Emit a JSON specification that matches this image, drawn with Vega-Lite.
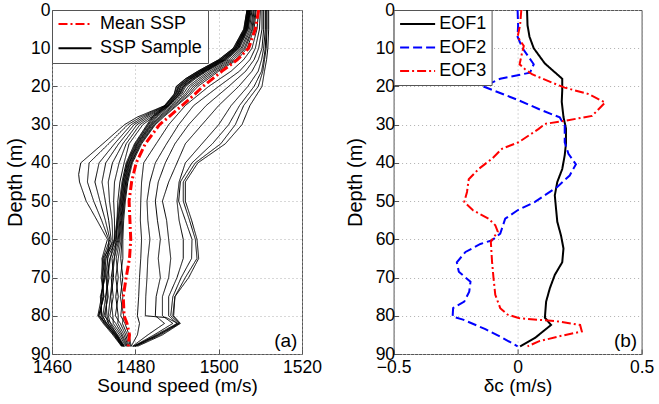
{
  "$schema": "https://vega.github.io/schema/vega-lite/v6.json",
  "background": "white",
  "padding": {"left": 5, "top": 0, "right": 0, "bottom": 0},
  "bounds": "flush",
  "spacing": 91.6,
  "resolve": {"scale": {"color": "independent", "strokeDash": "independent"}, "legend": {"color": "independent", "strokeDash": "independent"}},
  "config": {
    "font": "Liberation Sans",
    "view": {"stroke": "#555555", "strokeWidth": 1},
    "axis": {
      "domain": false, "grid": true, "gridColor": "#b0b0b0", "gridDash": [1, 3], "gridWidth": 1,
      "ticks": true, "tickSize": -5, "tickColor": "#555555",
      "labelFlush": false, "labelOverlap": false,
      "labelFont": "Liberation Sans", "labelFontSize": 17.5, "labelColor": "black",
      "titleFont": "Liberation Sans", "titleFontSize": 19, "titleFontWeight": "normal", "titleColor": "black"
    },
    "axisX": {"labelPadding": 9, "titlePadding": 1},
    "axisY": {"labelPadding": 7, "titlePadding": 5, "titleFontSize": 20}
  },
  "datasets": {
    "ssp": [
{"s":"b0","g":"S","d":0,"c":1506.8},{"s":"b0","g":"S","d":5,"c":1506.0},{"s":"b0","g":"S","d":10,"c":1503.5},{"s":"b0","g":"S","d":13,"c":1500.0},{"s":"b0","g":"S","d":16,"c":1495.0},{"s":"b0","g":"S","d":18,"c":1492.0},{"s":"b0","g":"S","d":20,"c":1489.8},{"s":"b0","g":"S","d":22,"c":1489.3},{"s":"b0","g":"S","d":25,"c":1487.0},{"s":"b0","g":"S","d":28,"c":1484.0},{"s":"b0","g":"S","d":30,"c":1482.8},{"s":"b0","g":"S","d":35,"c":1479.8},{"s":"b0","g":"S","d":40,"c":1477.8},{"s":"b0","g":"S","d":45,"c":1476.8},{"s":"b0","g":"S","d":50,"c":1476.2},{"s":"b0","g":"S","d":55,"c":1475.6},{"s":"b0","g":"S","d":60,"c":1475.0},{"s":"b0","g":"S","d":65,"c":1472.3},{"s":"b0","g":"S","d":70,"c":1472.6},{"s":"b0","g":"S","d":75,"c":1471.8},{"s":"b0","g":"S","d":80,"c":1471.9},{"s":"b0","g":"S","d":82,"c":1472.5},{"s":"b0","g":"S","d":85,"c":1475.0},{"s":"b0","g":"S","d":88,"c":1477.0},
{"s":"b1","g":"S","d":0,"c":1507.0},{"s":"b1","g":"S","d":5,"c":1506.3},{"s":"b1","g":"S","d":10,"c":1503.9},{"s":"b1","g":"S","d":13,"c":1500.5},{"s":"b1","g":"S","d":16,"c":1495.6},{"s":"b1","g":"S","d":18,"c":1492.6},{"s":"b1","g":"S","d":20,"c":1490.4},{"s":"b1","g":"S","d":22,"c":1489.7},{"s":"b1","g":"S","d":25,"c":1487.3},{"s":"b1","g":"S","d":28,"c":1484.3},{"s":"b1","g":"S","d":30,"c":1483.0},{"s":"b1","g":"S","d":35,"c":1480.0},{"s":"b1","g":"S","d":40,"c":1478.0},{"s":"b1","g":"S","d":45,"c":1477.0},{"s":"b1","g":"S","d":50,"c":1476.4},{"s":"b1","g":"S","d":55,"c":1475.8},{"s":"b1","g":"S","d":60,"c":1475.2},{"s":"b1","g":"S","d":65,"c":1472.8},{"s":"b1","g":"S","d":70,"c":1472.0},{"s":"b1","g":"S","d":75,"c":1472.4},{"s":"b1","g":"S","d":80,"c":1471.2},{"s":"b1","g":"S","d":82,"c":1473.1},{"s":"b1","g":"S","d":85,"c":1475.4},{"s":"b1","g":"S","d":88,"c":1477.2},
{"s":"b2","g":"S","d":0,"c":1507.3},{"s":"b2","g":"S","d":5,"c":1506.6},{"s":"b2","g":"S","d":10,"c":1504.2},{"s":"b2","g":"S","d":13,"c":1501.0},{"s":"b2","g":"S","d":16,"c":1496.1},{"s":"b2","g":"S","d":18,"c":1493.2},{"s":"b2","g":"S","d":20,"c":1490.9},{"s":"b2","g":"S","d":22,"c":1490.2},{"s":"b2","g":"S","d":25,"c":1487.7},{"s":"b2","g":"S","d":28,"c":1484.6},{"s":"b2","g":"S","d":30,"c":1483.2},{"s":"b2","g":"S","d":35,"c":1480.2},{"s":"b2","g":"S","d":40,"c":1478.1},{"s":"b2","g":"S","d":45,"c":1477.1},{"s":"b2","g":"S","d":50,"c":1476.5},{"s":"b2","g":"S","d":55,"c":1475.9},{"s":"b2","g":"S","d":60,"c":1475.4},{"s":"b2","g":"S","d":65,"c":1473.3},{"s":"b2","g":"S","d":70,"c":1473.7},{"s":"b2","g":"S","d":75,"c":1472.9},{"s":"b2","g":"S","d":80,"c":1473.2},{"s":"b2","g":"S","d":82,"c":1473.6},{"s":"b2","g":"S","d":85,"c":1475.8},{"s":"b2","g":"S","d":88,"c":1477.4},
{"s":"b3","g":"S","d":0,"c":1507.5},{"s":"b3","g":"S","d":5,"c":1506.8},{"s":"b3","g":"S","d":10,"c":1504.6},{"s":"b3","g":"S","d":13,"c":1501.5},{"s":"b3","g":"S","d":16,"c":1496.7},{"s":"b3","g":"S","d":18,"c":1493.8},{"s":"b3","g":"S","d":20,"c":1491.5},{"s":"b3","g":"S","d":22,"c":1490.6},{"s":"b3","g":"S","d":25,"c":1488.0},{"s":"b3","g":"S","d":28,"c":1484.9},{"s":"b3","g":"S","d":30,"c":1483.5},{"s":"b3","g":"S","d":35,"c":1480.4},{"s":"b3","g":"S","d":40,"c":1478.3},{"s":"b3","g":"S","d":45,"c":1477.3},{"s":"b3","g":"S","d":50,"c":1476.7},{"s":"b3","g":"S","d":55,"c":1476.1},{"s":"b3","g":"S","d":60,"c":1475.7},{"s":"b3","g":"S","d":65,"c":1473.9},{"s":"b3","g":"S","d":70,"c":1473.1},{"s":"b3","g":"S","d":75,"c":1473.5},{"s":"b3","g":"S","d":80,"c":1472.5},{"s":"b3","g":"S","d":82,"c":1474.2},{"s":"b3","g":"S","d":85,"c":1476.2},{"s":"b3","g":"S","d":88,"c":1477.7},
{"s":"b4","g":"S","d":0,"c":1507.8},{"s":"b4","g":"S","d":5,"c":1507.1},{"s":"b4","g":"S","d":10,"c":1505.0},{"s":"b4","g":"S","d":13,"c":1502.0},{"s":"b4","g":"S","d":16,"c":1497.2},{"s":"b4","g":"S","d":18,"c":1494.4},{"s":"b4","g":"S","d":20,"c":1492.1},{"s":"b4","g":"S","d":22,"c":1491.1},{"s":"b4","g":"S","d":25,"c":1488.3},{"s":"b4","g":"S","d":28,"c":1485.2},{"s":"b4","g":"S","d":30,"c":1483.7},{"s":"b4","g":"S","d":35,"c":1480.5},{"s":"b4","g":"S","d":40,"c":1478.5},{"s":"b4","g":"S","d":45,"c":1477.4},{"s":"b4","g":"S","d":50,"c":1476.8},{"s":"b4","g":"S","d":55,"c":1476.3},{"s":"b4","g":"S","d":60,"c":1475.9},{"s":"b4","g":"S","d":65,"c":1474.4},{"s":"b4","g":"S","d":70,"c":1474.8},{"s":"b4","g":"S","d":75,"c":1474.1},{"s":"b4","g":"S","d":80,"c":1474.6},{"s":"b4","g":"S","d":82,"c":1474.7},{"s":"b4","g":"S","d":85,"c":1476.6},{"s":"b4","g":"S","d":88,"c":1477.9},
{"s":"b5","g":"S","d":0,"c":1508.0},{"s":"b5","g":"S","d":5,"c":1507.4},{"s":"b5","g":"S","d":10,"c":1505.4},{"s":"b5","g":"S","d":13,"c":1502.5},{"s":"b5","g":"S","d":16,"c":1497.8},{"s":"b5","g":"S","d":18,"c":1495.1},{"s":"b5","g":"S","d":20,"c":1492.7},{"s":"b5","g":"S","d":22,"c":1491.5},{"s":"b5","g":"S","d":25,"c":1488.7},{"s":"b5","g":"S","d":28,"c":1485.6},{"s":"b5","g":"S","d":30,"c":1483.9},{"s":"b5","g":"S","d":35,"c":1480.7},{"s":"b5","g":"S","d":40,"c":1478.6},{"s":"b5","g":"S","d":45,"c":1477.6},{"s":"b5","g":"S","d":50,"c":1477.0},{"s":"b5","g":"S","d":55,"c":1476.5},{"s":"b5","g":"S","d":60,"c":1476.1},{"s":"b5","g":"S","d":65,"c":1474.9},{"s":"b5","g":"S","d":70,"c":1474.2},{"s":"b5","g":"S","d":75,"c":1474.7},{"s":"b5","g":"S","d":80,"c":1473.9},{"s":"b5","g":"S","d":82,"c":1475.3},{"s":"b5","g":"S","d":85,"c":1476.9},{"s":"b5","g":"S","d":88,"c":1478.1},
{"s":"b6","g":"S","d":0,"c":1508.3},{"s":"b6","g":"S","d":5,"c":1507.7},{"s":"b6","g":"S","d":10,"c":1505.7},{"s":"b6","g":"S","d":13,"c":1503.0},{"s":"b6","g":"S","d":16,"c":1498.4},{"s":"b6","g":"S","d":18,"c":1495.7},{"s":"b6","g":"S","d":20,"c":1493.3},{"s":"b6","g":"S","d":22,"c":1492.0},{"s":"b6","g":"S","d":25,"c":1489.0},{"s":"b6","g":"S","d":28,"c":1485.9},{"s":"b6","g":"S","d":30,"c":1484.1},{"s":"b6","g":"S","d":35,"c":1480.9},{"s":"b6","g":"S","d":40,"c":1478.8},{"s":"b6","g":"S","d":45,"c":1477.7},{"s":"b6","g":"S","d":50,"c":1477.1},{"s":"b6","g":"S","d":55,"c":1476.7},{"s":"b6","g":"S","d":60,"c":1476.3},{"s":"b6","g":"S","d":65,"c":1475.4},{"s":"b6","g":"S","d":70,"c":1475.9},{"s":"b6","g":"S","d":75,"c":1475.3},{"s":"b6","g":"S","d":80,"c":1475.9},{"s":"b6","g":"S","d":82,"c":1475.8},{"s":"b6","g":"S","d":85,"c":1477.3},{"s":"b6","g":"S","d":88,"c":1478.3},
{"s":"b7","g":"S","d":0,"c":1508.5},{"s":"b7","g":"S","d":5,"c":1508.0},{"s":"b7","g":"S","d":10,"c":1506.1},{"s":"b7","g":"S","d":13,"c":1503.5},{"s":"b7","g":"S","d":16,"c":1498.9},{"s":"b7","g":"S","d":18,"c":1496.3},{"s":"b7","g":"S","d":20,"c":1493.9},{"s":"b7","g":"S","d":22,"c":1492.4},{"s":"b7","g":"S","d":25,"c":1489.3},{"s":"b7","g":"S","d":28,"c":1486.2},{"s":"b7","g":"S","d":30,"c":1484.4},{"s":"b7","g":"S","d":35,"c":1481.1},{"s":"b7","g":"S","d":40,"c":1479.0},{"s":"b7","g":"S","d":45,"c":1477.9},{"s":"b7","g":"S","d":50,"c":1477.3},{"s":"b7","g":"S","d":55,"c":1476.8},{"s":"b7","g":"S","d":60,"c":1476.6},{"s":"b7","g":"S","d":65,"c":1475.9},{"s":"b7","g":"S","d":70,"c":1475.3},{"s":"b7","g":"S","d":75,"c":1475.9},{"s":"b7","g":"S","d":80,"c":1475.2},{"s":"b7","g":"S","d":82,"c":1476.4},{"s":"b7","g":"S","d":85,"c":1477.7},{"s":"b7","g":"S","d":88,"c":1478.5},
{"s":"b8","g":"S","d":0,"c":1508.8},{"s":"b8","g":"S","d":5,"c":1508.2},{"s":"b8","g":"S","d":10,"c":1506.4},{"s":"b8","g":"S","d":13,"c":1504.0},{"s":"b8","g":"S","d":16,"c":1499.5},{"s":"b8","g":"S","d":18,"c":1496.9},{"s":"b8","g":"S","d":20,"c":1494.4},{"s":"b8","g":"S","d":22,"c":1492.9},{"s":"b8","g":"S","d":25,"c":1489.7},{"s":"b8","g":"S","d":28,"c":1486.5},{"s":"b8","g":"S","d":30,"c":1484.6},{"s":"b8","g":"S","d":35,"c":1481.3},{"s":"b8","g":"S","d":40,"c":1479.1},{"s":"b8","g":"S","d":45,"c":1478.0},{"s":"b8","g":"S","d":50,"c":1477.4},{"s":"b8","g":"S","d":55,"c":1477.0},{"s":"b8","g":"S","d":60,"c":1476.8},{"s":"b8","g":"S","d":65,"c":1476.5},{"s":"b8","g":"S","d":70,"c":1477.0},{"s":"b8","g":"S","d":75,"c":1476.4},{"s":"b8","g":"S","d":80,"c":1477.2},{"s":"b8","g":"S","d":82,"c":1476.9},{"s":"b8","g":"S","d":85,"c":1478.1},{"s":"b8","g":"S","d":88,"c":1478.8},
{"s":"b9","g":"S","d":0,"c":1509.0},{"s":"b9","g":"S","d":5,"c":1508.5},{"s":"b9","g":"S","d":10,"c":1506.8},{"s":"b9","g":"S","d":13,"c":1504.5},{"s":"b9","g":"S","d":16,"c":1500.0},{"s":"b9","g":"S","d":18,"c":1497.5},{"s":"b9","g":"S","d":20,"c":1495.0},{"s":"b9","g":"S","d":22,"c":1493.3},{"s":"b9","g":"S","d":25,"c":1490.0},{"s":"b9","g":"S","d":28,"c":1486.8},{"s":"b9","g":"S","d":30,"c":1484.8},{"s":"b9","g":"S","d":35,"c":1481.5},{"s":"b9","g":"S","d":40,"c":1479.3},{"s":"b9","g":"S","d":45,"c":1478.2},{"s":"b9","g":"S","d":50,"c":1477.6},{"s":"b9","g":"S","d":55,"c":1477.2},{"s":"b9","g":"S","d":60,"c":1477.0},{"s":"b9","g":"S","d":65,"c":1477.0},{"s":"b9","g":"S","d":70,"c":1476.4},{"s":"b9","g":"S","d":75,"c":1477.0},{"s":"b9","g":"S","d":80,"c":1476.5},{"s":"b9","g":"S","d":82,"c":1477.5},{"s":"b9","g":"S","d":85,"c":1478.5},{"s":"b9","g":"S","d":88,"c":1479.0},
{"s":"l1","g":"S","d":0,"c":1507.6},{"s":"l1","g":"S","d":5,"c":1507.0},{"s":"l1","g":"S","d":10,"c":1504.8},{"s":"l1","g":"S","d":13,"c":1501.7},{"s":"l1","g":"S","d":16,"c":1496.9},{"s":"l1","g":"S","d":18,"c":1494.1},{"s":"l1","g":"S","d":20,"c":1491.8},{"s":"l1","g":"S","d":22,"c":1490.8},{"s":"l1","g":"S","d":25,"c":1488.1},{"s":"l1","g":"S","d":28,"c":1484.3},{"s":"l1","g":"S","d":30,"c":1481.8},{"s":"l1","g":"S","d":35,"c":1478.5},{"s":"l1","g":"S","d":40,"c":1477.3},{"s":"l1","g":"S","d":45,"c":1476.3},{"s":"l1","g":"S","d":50,"c":1475.8},{"s":"l1","g":"S","d":55,"c":1475.6},{"s":"l1","g":"S","d":60,"c":1475.4},{"s":"l1","g":"S","d":65,"c":1475.0},{"s":"l1","g":"S","d":70,"c":1474.5},{"s":"l1","g":"S","d":75,"c":1474.0},{"s":"l1","g":"S","d":80,"c":1473.5},{"s":"l1","g":"S","d":82,"c":1474.0},{"s":"l1","g":"S","d":85,"c":1475.6},{"s":"l1","g":"S","d":88,"c":1477.2},
{"s":"l2","g":"S","d":0,"c":1507.5},{"s":"l2","g":"S","d":5,"c":1506.8},{"s":"l2","g":"S","d":10,"c":1504.6},{"s":"l2","g":"S","d":13,"c":1501.4},{"s":"l2","g":"S","d":16,"c":1496.6},{"s":"l2","g":"S","d":18,"c":1493.8},{"s":"l2","g":"S","d":20,"c":1491.5},{"s":"l2","g":"S","d":22,"c":1490.6},{"s":"l2","g":"S","d":25,"c":1488.0},{"s":"l2","g":"S","d":28,"c":1483.8},{"s":"l2","g":"S","d":30,"c":1481.1},{"s":"l2","g":"S","d":35,"c":1477.8},{"s":"l2","g":"S","d":40,"c":1476.1},{"s":"l2","g":"S","d":45,"c":1475.0},{"s":"l2","g":"S","d":50,"c":1474.8},{"s":"l2","g":"S","d":55,"c":1475.0},{"s":"l2","g":"S","d":60,"c":1475.0},{"s":"l2","g":"S","d":65,"c":1474.0},{"s":"l2","g":"S","d":70,"c":1473.4},{"s":"l2","g":"S","d":75,"c":1472.9},{"s":"l2","g":"S","d":80,"c":1472.2},{"s":"l2","g":"S","d":82,"c":1473.0},{"s":"l2","g":"S","d":85,"c":1475.3},{"s":"l2","g":"S","d":88,"c":1477.0},
{"s":"l3","g":"S","d":0,"c":1507.4},{"s":"l3","g":"S","d":5,"c":1506.7},{"s":"l3","g":"S","d":10,"c":1504.4},{"s":"l3","g":"S","d":13,"c":1501.2},{"s":"l3","g":"S","d":16,"c":1496.3},{"s":"l3","g":"S","d":18,"c":1493.4},{"s":"l3","g":"S","d":20,"c":1491.2},{"s":"l3","g":"S","d":22,"c":1490.3},{"s":"l3","g":"S","d":25,"c":1487.8},{"s":"l3","g":"S","d":28,"c":1483.2},{"s":"l3","g":"S","d":30,"c":1480.4},{"s":"l3","g":"S","d":35,"c":1477.0},{"s":"l3","g":"S","d":40,"c":1474.5},{"s":"l3","g":"S","d":45,"c":1473.5},{"s":"l3","g":"S","d":50,"c":1473.8},{"s":"l3","g":"S","d":55,"c":1474.4},{"s":"l3","g":"S","d":60,"c":1474.6},{"s":"l3","g":"S","d":65,"c":1473.0},{"s":"l3","g":"S","d":70,"c":1472.4},{"s":"l3","g":"S","d":75,"c":1472.2},{"s":"l3","g":"S","d":80,"c":1471.5},{"s":"l3","g":"S","d":82,"c":1472.8},{"s":"l3","g":"S","d":85,"c":1475.0},{"s":"l3","g":"S","d":88,"c":1476.8},
{"s":"l4","g":"S","d":0,"c":1507.2},{"s":"l4","g":"S","d":5,"c":1506.5},{"s":"l4","g":"S","d":10,"c":1504.2},{"s":"l4","g":"S","d":13,"c":1500.9},{"s":"l4","g":"S","d":16,"c":1496.0},{"s":"l4","g":"S","d":18,"c":1493.1},{"s":"l4","g":"S","d":20,"c":1490.8},{"s":"l4","g":"S","d":22,"c":1490.1},{"s":"l4","g":"S","d":25,"c":1487.6},{"s":"l4","g":"S","d":28,"c":1482.6},{"s":"l4","g":"S","d":30,"c":1479.7},{"s":"l4","g":"S","d":35,"c":1476.0},{"s":"l4","g":"S","d":40,"c":1472.9},{"s":"l4","g":"S","d":45,"c":1472.0},{"s":"l4","g":"S","d":50,"c":1472.8},{"s":"l4","g":"S","d":55,"c":1473.6},{"s":"l4","g":"S","d":60,"c":1474.2},{"s":"l4","g":"S","d":65,"c":1472.6},{"s":"l4","g":"S","d":70,"c":1473.0},{"s":"l4","g":"S","d":75,"c":1473.3},{"s":"l4","g":"S","d":80,"c":1472.8},{"s":"l4","g":"S","d":82,"c":1473.5},{"s":"l4","g":"S","d":85,"c":1475.5},{"s":"l4","g":"S","d":88,"c":1477.3},
{"s":"l5","g":"S","d":0,"c":1507.1},{"s":"l5","g":"S","d":5,"c":1506.4},{"s":"l5","g":"S","d":10,"c":1504.0},{"s":"l5","g":"S","d":13,"c":1500.6},{"s":"l5","g":"S","d":16,"c":1495.7},{"s":"l5","g":"S","d":18,"c":1492.8},{"s":"l5","g":"S","d":20,"c":1490.5},{"s":"l5","g":"S","d":22,"c":1489.9},{"s":"l5","g":"S","d":25,"c":1487.4},{"s":"l5","g":"S","d":28,"c":1482.0},{"s":"l5","g":"S","d":30,"c":1479.0},{"s":"l5","g":"S","d":35,"c":1475.0},{"s":"l5","g":"S","d":40,"c":1471.3},{"s":"l5","g":"S","d":45,"c":1470.3},{"s":"l5","g":"S","d":50,"c":1471.5},{"s":"l5","g":"S","d":55,"c":1472.8},{"s":"l5","g":"S","d":60,"c":1473.9},{"s":"l5","g":"S","d":65,"c":1472.2},{"s":"l5","g":"S","d":70,"c":1471.8},{"s":"l5","g":"S","d":75,"c":1472.5},{"s":"l5","g":"S","d":80,"c":1471.2},{"s":"l5","g":"S","d":82,"c":1472.6},{"s":"l5","g":"S","d":85,"c":1474.8},{"s":"l5","g":"S","d":88,"c":1476.8},
{"s":"l6","g":"S","d":0,"c":1507.0},{"s":"l6","g":"S","d":5,"c":1506.2},{"s":"l6","g":"S","d":10,"c":1503.8},{"s":"l6","g":"S","d":13,"c":1500.4},{"s":"l6","g":"S","d":16,"c":1495.4},{"s":"l6","g":"S","d":18,"c":1492.4},{"s":"l6","g":"S","d":20,"c":1490.2},{"s":"l6","g":"S","d":22,"c":1489.6},{"s":"l6","g":"S","d":25,"c":1487.2},{"s":"l6","g":"S","d":28,"c":1481.3},{"s":"l6","g":"S","d":30,"c":1478.2},{"s":"l6","g":"S","d":35,"c":1473.6},{"s":"l6","g":"S","d":40,"c":1468.9},{"s":"l6","g":"S","d":45,"c":1468.5},{"s":"l6","g":"S","d":50,"c":1470.0},{"s":"l6","g":"S","d":55,"c":1471.9},{"s":"l6","g":"S","d":60,"c":1473.6},{"s":"l6","g":"S","d":65,"c":1473.4},{"s":"l6","g":"S","d":70,"c":1472.8},{"s":"l6","g":"S","d":75,"c":1471.6},{"s":"l6","g":"S","d":80,"c":1472.0},{"s":"l6","g":"S","d":82,"c":1473.2},{"s":"l6","g":"S","d":85,"c":1475.2},{"s":"l6","g":"S","d":88,"c":1477.1},
{"s":"l7","g":"S","d":0,"c":1506.8},{"s":"l7","g":"S","d":5,"c":1506.1},{"s":"l7","g":"S","d":10,"c":1503.6},{"s":"l7","g":"S","d":13,"c":1500.1},{"s":"l7","g":"S","d":16,"c":1495.1},{"s":"l7","g":"S","d":18,"c":1492.1},{"s":"l7","g":"S","d":20,"c":1489.9},{"s":"l7","g":"S","d":22,"c":1489.4},{"s":"l7","g":"S","d":25,"c":1487.1},{"s":"l7","g":"S","d":28,"c":1480.5},{"s":"l7","g":"S","d":30,"c":1477.4},{"s":"l7","g":"S","d":35,"c":1472.2},{"s":"l7","g":"S","d":40,"c":1466.9},{"s":"l7","g":"S","d":43,"c":1466.4},{"s":"l7","g":"S","d":45,"c":1466.6},{"s":"l7","g":"S","d":50,"c":1468.2},{"s":"l7","g":"S","d":55,"c":1470.8},{"s":"l7","g":"S","d":60,"c":1473.3},{"s":"l7","g":"S","d":65,"c":1472.0},{"s":"l7","g":"S","d":70,"c":1472.2},{"s":"l7","g":"S","d":75,"c":1471.9},{"s":"l7","g":"S","d":80,"c":1471.0},{"s":"l7","g":"S","d":82,"c":1472.3},{"s":"l7","g":"S","d":85,"c":1474.6},{"s":"l7","g":"S","d":88,"c":1476.7},
{"s":"r1","g":"S","d":0,"c":1509.6},{"s":"r1","g":"S","d":5,"c":1509.2},{"s":"r1","g":"S","d":10,"c":1508.0},{"s":"r1","g":"S","d":13,"c":1506.0},{"s":"r1","g":"S","d":16,"c":1503.0},{"s":"r1","g":"S","d":20,"c":1497.6},{"s":"r1","g":"S","d":25,"c":1492.0},{"s":"r1","g":"S","d":30,"c":1488.0},{"s":"r1","g":"S","d":35,"c":1485.0},{"s":"r1","g":"S","d":40,"c":1482.0},{"s":"r1","g":"S","d":45,"c":1481.5},{"s":"r1","g":"S","d":50,"c":1481.3},{"s":"r1","g":"S","d":55,"c":1481.2},{"s":"r1","g":"S","d":60,"c":1481.5},{"s":"r1","g":"S","d":65,"c":1481.3},{"s":"r1","g":"S","d":70,"c":1481.0},{"s":"r1","g":"S","d":75,"c":1480.8},{"s":"r1","g":"S","d":80,"c":1480.5},{"s":"r1","g":"S","d":82,"c":1481.0},{"s":"r1","g":"S","d":85,"c":1480.5},{"s":"r1","g":"S","d":88,"c":1479.0},
{"s":"r2","g":"S","d":0,"c":1510.0},{"s":"r2","g":"S","d":5,"c":1509.8},{"s":"r2","g":"S","d":10,"c":1508.8},{"s":"r2","g":"S","d":13,"c":1507.5},{"s":"r2","g":"S","d":16,"c":1505.0},{"s":"r2","g":"S","d":20,"c":1500.0},{"s":"r2","g":"S","d":25,"c":1494.0},{"s":"r2","g":"S","d":30,"c":1490.4},{"s":"r2","g":"S","d":35,"c":1487.5},{"s":"r2","g":"S","d":40,"c":1484.8},{"s":"r2","g":"S","d":45,"c":1483.5},{"s":"r2","g":"S","d":50,"c":1482.8},{"s":"r2","g":"S","d":55,"c":1483.0},{"s":"r2","g":"S","d":60,"c":1483.5},{"s":"r2","g":"S","d":65,"c":1483.0},{"s":"r2","g":"S","d":70,"c":1482.8},{"s":"r2","g":"S","d":75,"c":1482.5},{"s":"r2","g":"S","d":80,"c":1482.4},{"s":"r2","g":"S","d":80.5,"c":1487.5},{"s":"r2","g":"S","d":82,"c":1490.2},{"s":"r2","g":"S","d":85,"c":1485.5},{"s":"r2","g":"S","d":88,"c":1479.5},
{"s":"r3","g":"S","d":0,"c":1510.4},{"s":"r3","g":"S","d":5,"c":1510.4},{"s":"r3","g":"S","d":10,"c":1509.6},{"s":"r3","g":"S","d":13,"c":1508.5},{"s":"r3","g":"S","d":16,"c":1506.5},{"s":"r3","g":"S","d":20,"c":1502.4},{"s":"r3","g":"S","d":25,"c":1497.0},{"s":"r3","g":"S","d":30,"c":1492.8},{"s":"r3","g":"S","d":35,"c":1489.5},{"s":"r3","g":"S","d":40,"c":1487.2},{"s":"r3","g":"S","d":45,"c":1485.5},{"s":"r3","g":"S","d":50,"c":1484.8},{"s":"r3","g":"S","d":55,"c":1485.3},{"s":"r3","g":"S","d":60,"c":1486.0},{"s":"r3","g":"S","d":65,"c":1485.5},{"s":"r3","g":"S","d":70,"c":1486.0},{"s":"r3","g":"S","d":75,"c":1485.0},{"s":"r3","g":"S","d":80,"c":1484.8},{"s":"r3","g":"S","d":82,"c":1487.0},{"s":"r3","g":"S","d":85,"c":1483.0},{"s":"r3","g":"S","d":88,"c":1479.3},
{"s":"r4","g":"S","d":0,"c":1510.8},{"s":"r4","g":"S","d":5,"c":1510.8},{"s":"r4","g":"S","d":10,"c":1510.4},{"s":"r4","g":"S","d":13,"c":1509.5},{"s":"r4","g":"S","d":16,"c":1508.0},{"s":"r4","g":"S","d":20,"c":1504.8},{"s":"r4","g":"S","d":25,"c":1500.0},{"s":"r4","g":"S","d":30,"c":1496.0},{"s":"r4","g":"S","d":35,"c":1492.0},{"s":"r4","g":"S","d":40,"c":1490.0},{"s":"r4","g":"S","d":45,"c":1488.0},{"s":"r4","g":"S","d":50,"c":1486.5},{"s":"r4","g":"S","d":55,"c":1487.5},{"s":"r4","g":"S","d":60,"c":1488.0},{"s":"r4","g":"S","d":65,"c":1488.5},{"s":"r4","g":"S","d":70,"c":1488.0},{"s":"r4","g":"S","d":75,"c":1486.5},{"s":"r4","g":"S","d":80,"c":1486.5},{"s":"r4","g":"S","d":82,"c":1489.0},{"s":"r4","g":"S","d":85,"c":1484.5},{"s":"r4","g":"S","d":88,"c":1479.5},
{"s":"r5","g":"S","d":0,"c":1511.2},{"s":"r5","g":"S","d":5,"c":1511.2},{"s":"r5","g":"S","d":10,"c":1510.8},{"s":"r5","g":"S","d":13,"c":1510.3},{"s":"r5","g":"S","d":16,"c":1509.5},{"s":"r5","g":"S","d":20,"c":1507.0},{"s":"r5","g":"S","d":25,"c":1503.0},{"s":"r5","g":"S","d":30,"c":1500.0},{"s":"r5","g":"S","d":35,"c":1496.0},{"s":"r5","g":"S","d":40,"c":1492.0},{"s":"r5","g":"S","d":45,"c":1490.5},{"s":"r5","g":"S","d":50,"c":1490.0},{"s":"r5","g":"S","d":55,"c":1490.5},{"s":"r5","g":"S","d":60,"c":1491.5},{"s":"r5","g":"S","d":65,"c":1491.5},{"s":"r5","g":"S","d":70,"c":1490.0},{"s":"r5","g":"S","d":75,"c":1488.0},{"s":"r5","g":"S","d":80,"c":1488.0},{"s":"r5","g":"S","d":82,"c":1490.0},{"s":"r5","g":"S","d":85,"c":1485.0},{"s":"r5","g":"S","d":88,"c":1479.8},
{"s":"r6","g":"S","d":0,"c":1511.4},{"s":"r6","g":"S","d":5,"c":1511.4},{"s":"r6","g":"S","d":10,"c":1511.2},{"s":"r6","g":"S","d":13,"c":1510.8},{"s":"r6","g":"S","d":16,"c":1510.3},{"s":"r6","g":"S","d":20,"c":1508.5},{"s":"r6","g":"S","d":25,"c":1505.0},{"s":"r6","g":"S","d":30,"c":1502.4},{"s":"r6","g":"S","d":35,"c":1498.5},{"s":"r6","g":"S","d":40,"c":1493.6},{"s":"r6","g":"S","d":45,"c":1490.8},{"s":"r6","g":"S","d":50,"c":1490.4},{"s":"r6","g":"S","d":55,"c":1492.0},{"s":"r6","g":"S","d":60,"c":1493.6},{"s":"r6","g":"S","d":65,"c":1493.5},{"s":"r6","g":"S","d":70,"c":1491.0},{"s":"r6","g":"S","d":75,"c":1489.0},{"s":"r6","g":"S","d":80,"c":1488.5},{"s":"r6","g":"S","d":82,"c":1490.5},{"s":"r6","g":"S","d":85,"c":1485.5},{"s":"r6","g":"S","d":88,"c":1480.0},
{"s":"r7","g":"S","d":0,"c":1511.6},{"s":"r7","g":"S","d":5,"c":1511.6},{"s":"r7","g":"S","d":10,"c":1511.4},{"s":"r7","g":"S","d":13,"c":1511.0},{"s":"r7","g":"S","d":16,"c":1510.6},{"s":"r7","g":"S","d":20,"c":1509.5},{"s":"r7","g":"S","d":25,"c":1506.0},{"s":"r7","g":"S","d":30,"c":1504.0},{"s":"r7","g":"S","d":35,"c":1500.5},{"s":"r7","g":"S","d":40,"c":1494.4},{"s":"r7","g":"S","d":45,"c":1491.5},{"s":"r7","g":"S","d":50,"c":1491.5},{"s":"r7","g":"S","d":55,"c":1493.0},{"s":"r7","g":"S","d":60,"c":1494.4},{"s":"r7","g":"S","d":65,"c":1494.8},{"s":"r7","g":"S","d":70,"c":1492.0},{"s":"r7","g":"S","d":75,"c":1489.5},{"s":"r7","g":"S","d":80,"c":1489.0},{"s":"r7","g":"S","d":82,"c":1490.6},{"s":"r7","g":"S","d":85,"c":1486.0},{"s":"r7","g":"S","d":88,"c":1480.0},
{"s":"r8","g":"S","d":0,"c":1512.0},{"s":"r8","g":"S","d":5,"c":1512.0},{"s":"r8","g":"S","d":10,"c":1511.8},{"s":"r8","g":"S","d":13,"c":1511.5},{"s":"r8","g":"S","d":16,"c":1511.0},{"s":"r8","g":"S","d":20,"c":1510.4},{"s":"r8","g":"S","d":25,"c":1507.5},{"s":"r8","g":"S","d":30,"c":1505.6},{"s":"r8","g":"S","d":35,"c":1501.6},{"s":"r8","g":"S","d":40,"c":1495.0},{"s":"r8","g":"S","d":45,"c":1492.0},{"s":"r8","g":"S","d":50,"c":1492.0},{"s":"r8","g":"S","d":55,"c":1493.5},{"s":"r8","g":"S","d":60,"c":1494.8},{"s":"r8","g":"S","d":65,"c":1495.2},{"s":"r8","g":"S","d":70,"c":1492.8},{"s":"r8","g":"S","d":75,"c":1489.5},{"s":"r8","g":"S","d":80,"c":1489.2},{"s":"r8","g":"S","d":82,"c":1490.8},{"s":"r8","g":"S","d":85,"c":1486.5},{"s":"r8","g":"S","d":88,"c":1480.5},
{"s":"m","g":"M","d":0,"c":1509.6},{"s":"m","g":"M","d":5,"c":1508.8},{"s":"m","g":"M","d":10,"c":1507.2},{"s":"m","g":"M","d":13,"c":1504.5},{"s":"m","g":"M","d":16,"c":1500.8},{"s":"m","g":"M","d":18,"c":1498.5},{"s":"m","g":"M","d":20,"c":1496.2},{"s":"m","g":"M","d":22,"c":1494.3},{"s":"m","g":"M","d":25,"c":1491.2},{"s":"m","g":"M","d":28,"c":1488.0},{"s":"m","g":"M","d":30,"c":1485.8},{"s":"m","g":"M","d":35,"c":1482.4},{"s":"m","g":"M","d":40,"c":1480.2},{"s":"m","g":"M","d":45,"c":1479.1},{"s":"m","g":"M","d":50,"c":1478.5},{"s":"m","g":"M","d":55,"c":1478.7},{"s":"m","g":"M","d":60,"c":1478.9},{"s":"m","g":"M","d":65,"c":1478.6},{"s":"m","g":"M","d":70,"c":1477.8},{"s":"m","g":"M","d":75,"c":1477.1},{"s":"m","g":"M","d":80,"c":1477.3},{"s":"m","g":"M","d":82,"c":1478.0},{"s":"m","g":"M","d":85,"c":1478.6},{"s":"m","g":"M","d":88,"c":1478.3}
    ],
    "eof": [
{"g":"EOF1","d":0,"v":0.038},{"g":"EOF1","d":4,"v":0.04},{"g":"EOF1","d":7,"v":0.048},{"g":"EOF1","d":10,"v":0.065},{"g":"EOF1","d":14,"v":0.11},{"g":"EOF1","d":18,"v":0.18},{"g":"EOF1","d":21,"v":0.18},{"g":"EOF1","d":24,"v":0.178},{"g":"EOF1","d":28,"v":0.185},{"g":"EOF1","d":31,"v":0.195},{"g":"EOF1","d":35,"v":0.195},{"g":"EOF1","d":38,"v":0.19},{"g":"EOF1","d":41.6,"v":0.18},{"g":"EOF1","d":45,"v":0.16},{"g":"EOF1","d":48.5,"v":0.15},{"g":"EOF1","d":52,"v":0.155},{"g":"EOF1","d":55.4,"v":0.16},{"g":"EOF1","d":59,"v":0.175},{"g":"EOF1","d":62.4,"v":0.185},{"g":"EOF1","d":66,"v":0.18},{"g":"EOF1","d":69.3,"v":0.15},{"g":"EOF1","d":72.8,"v":0.13},{"g":"EOF1","d":76.3,"v":0.115},{"g":"EOF1","d":80.5,"v":0.11},{"g":"EOF1","d":82.4,"v":0.135},{"g":"EOF1","d":85.8,"v":0.07},{"g":"EOF1","d":88,"v":0.01},
{"g":"EOF2","d":0,"v":0.0},{"g":"EOF2","d":4,"v":0.002},{"g":"EOF2","d":7,"v":0.0},{"g":"EOF2","d":10,"v":0.02},{"g":"EOF2","d":14.2,"v":0.065},{"g":"EOF2","d":16.4,"v":0.05},{"g":"EOF2","d":18,"v":-0.07},{"g":"EOF2","d":20,"v":-0.138},{"g":"EOF2","d":23.5,"v":0.0},{"g":"EOF2","d":25.9,"v":0.085},{"g":"EOF2","d":28.1,"v":0.17},{"g":"EOF2","d":30.3,"v":0.19},{"g":"EOF2","d":34.6,"v":0.19},{"g":"EOF2","d":37.6,"v":0.205},{"g":"EOF2","d":40.4,"v":0.235},{"g":"EOF2","d":43.3,"v":0.21},{"g":"EOF2","d":46.3,"v":0.16},{"g":"EOF2","d":50.2,"v":0.07},{"g":"EOF2","d":52.4,"v":0.0},{"g":"EOF2","d":54.6,"v":-0.05},{"g":"EOF2","d":58.5,"v":-0.07},{"g":"EOF2","d":60.3,"v":-0.105},{"g":"EOF2","d":61.2,"v":-0.15},{"g":"EOF2","d":63.3,"v":-0.21},{"g":"EOF2","d":66,"v":-0.245},{"g":"EOF2","d":68.5,"v":-0.237},{"g":"EOF2","d":71.1,"v":-0.19},{"g":"EOF2","d":73.7,"v":-0.195},{"g":"EOF2","d":76.3,"v":-0.215},{"g":"EOF2","d":78,"v":-0.26},{"g":"EOF2","d":80.2,"v":-0.262},{"g":"EOF2","d":81,"v":-0.22},{"g":"EOF2","d":83.5,"v":-0.13},{"g":"EOF2","d":85.8,"v":-0.06},{"g":"EOF2","d":88,"v":0.0},
{"g":"EOF3","d":0,"v":0.015},{"g":"EOF3","d":4,"v":0.01},{"g":"EOF3","d":7,"v":0.0},{"g":"EOF3","d":9.4,"v":0.025},{"g":"EOF3","d":11.2,"v":0.018},{"g":"EOF3","d":14.2,"v":0.008},{"g":"EOF3","d":15.5,"v":0.03},{"g":"EOF3","d":16.8,"v":0.058},{"g":"EOF3","d":19,"v":0.138},{"g":"EOF3","d":20.3,"v":0.19},{"g":"EOF3","d":22,"v":0.286},{"g":"EOF3","d":24.2,"v":0.353},{"g":"EOF3","d":27.7,"v":0.3},{"g":"EOF3","d":29,"v":0.19},{"g":"EOF3","d":29.8,"v":0.11},{"g":"EOF3","d":31.1,"v":0.085},{"g":"EOF3","d":34.6,"v":0.004},{"g":"EOF3","d":36.3,"v":-0.063},{"g":"EOF3","d":38.9,"v":-0.103},{"g":"EOF3","d":41.6,"v":-0.157},{"g":"EOF3","d":44.3,"v":-0.197},{"g":"EOF3","d":47.6,"v":-0.204},{"g":"EOF3","d":50.2,"v":-0.215},{"g":"EOF3","d":52.4,"v":-0.18},{"g":"EOF3","d":54.6,"v":-0.117},{"g":"EOF3","d":56.3,"v":-0.09},{"g":"EOF3","d":58,"v":-0.08},{"g":"EOF3","d":60.6,"v":-0.108},{"g":"EOF3","d":65.9,"v":-0.103},{"g":"EOF3","d":70.2,"v":-0.097},{"g":"EOF3","d":74.5,"v":-0.09},{"g":"EOF3","d":78,"v":-0.07},{"g":"EOF3","d":79.7,"v":-0.04},{"g":"EOF3","d":80.6,"v":0.004},{"g":"EOF3","d":81.5,"v":0.165},{"g":"EOF3","d":82.4,"v":0.252},{"g":"EOF3","d":84.1,"v":0.259},{"g":"EOF3","d":85.4,"v":0.165},{"g":"EOF3","d":86.7,"v":0.085},{"g":"EOF3","d":88,"v":0.04}
    ]
  },
  "hconcat": [
    {
      "width": 250,
      "height": 344,
      "layer": [
        {
          "data": {"name": "ssp"},
          "transform": [{"filter": "datum.g == 'S'"}],
          "mark": {"type": "line", "clip": true, "strokeWidth": 1},
          "encoding": {
            "x": {"field": "c", "type": "quantitative", "scale": {"domain": [1460, 1520], "nice": false, "zero": false},
                  "axis": {"values": [1460, 1480, 1500, 1520], "format": "d", "title": "Sound speed (m/s)", "labelOverlap": false, "labelFlush": false}},
            "y": {"field": "d", "type": "quantitative", "scale": {"domain": [0, 90], "reverse": true, "nice": false},
                  "axis": {"values": [0, 10, 20, 30, 40, 50, 60, 70, 80, 90], "tickCount": 10, "title": "Depth (m)", "labelOverlap": false, "labelFlush": false, "labelSeparation": 0}},
            "detail": {"field": "s", "type": "nominal"},
            "order": {"field": "d", "type": "quantitative"},
            "color": {"field": "g", "type": "nominal", "scale": {"domain": ["M", "S"], "range": ["#ff0000", "#000000"]},
                      "legend": {"orient": "top-left", "offset": 0, "title": null, "fillColor": "white", "strokeColor": "#555555",
                                 "padding": 5, "symbolType": "M-1,0H3.4", "symbolSize": 225, "symbolStrokeWidth": 2,
                                 "labelFont": "Liberation Sans", "labelFontSize": 18, "labelOffset": 25,
                                 "rowPadding": 6.2, "labelColor": "black", "labelLimit": 300,
                                 "labelExpr": "datum.label == 'M' ? 'Mean SSP' : 'SSP Sample'"}},
            "strokeDash": {"field": "g", "type": "nominal", "scale": {"domain": ["M", "S"], "range": [[9, 3, 2, 3], [1, 0]]}}
          }
        },
        {
          "data": {"name": "ssp"},
          "transform": [{"filter": "datum.g == 'M'"}],
          "mark": {"type": "line", "clip": true, "strokeWidth": 3},
          "encoding": {
            "x": {"field": "c", "type": "quantitative"},
            "y": {"field": "d", "type": "quantitative"},
            "order": {"field": "d", "type": "quantitative"},
            "color": {"field": "g", "type": "nominal", "scale": {"domain": ["M", "S"], "range": ["#ff0000", "#000000"]}},
            "strokeDash": {"field": "g", "type": "nominal", "scale": {"domain": ["M", "S"], "range": [[9, 3, 2, 3], [1, 0]]}}
          }
        },
        {
          "data": {"values": [{"c": 1518.9, "d": 86.7, "t": "(a)"}]},
          "mark": {"type": "text", "align": "right", "baseline": "middle", "font": "Liberation Sans", "fontSize": 19, "color": "black"},
          "encoding": {
            "x": {"field": "c", "type": "quantitative"},
            "y": {"field": "d", "type": "quantitative"},
            "text": {"field": "t"}
          }
        }
      ]
    },
    {
      "width": 248,
      "height": 344,
      "layer": [
        {
          "data": {"name": "eof"},
          "mark": {"type": "line", "strokeWidth": 2},
          "encoding": {
            "x": {"field": "v", "type": "quantitative", "scale": {"domain": [-0.5, 0.5], "nice": false, "zero": false},
                  "axis": {"values": [-0.5, 0, 0.5], "format": ".1~f", "title": "δc (m/s)", "labelOverlap": false, "labelFlush": false}},
            "y": {"field": "d", "type": "quantitative", "scale": {"domain": [0, 90], "reverse": true, "nice": false},
                  "axis": {"values": [0, 10, 20, 30, 40, 50, 60, 70, 80, 90], "tickCount": 10, "title": "Depth (m)", "labelPadding": 4, "titlePadding": 10, "labelOverlap": false, "labelFlush": false, "labelSeparation": 0}},
            "order": {"field": "d", "type": "quantitative"},
            "color": {"field": "g", "type": "nominal", "scale": {"domain": ["EOF1", "EOF2", "EOF3"], "range": ["#000000", "#0000ff", "#ff0000"]},
                      "legend": {"orient": "top-left", "offset": 0, "title": null, "fillColor": "white", "strokeColor": "#555555",
                                 "padding": 5, "symbolType": "M-1,0H3.67", "symbolSize": 225, "symbolStrokeWidth": 2,
                                 "labelFont": "Liberation Sans", "labelFontSize": 18, "labelOffset": 22.7,
                                 "rowPadding": 5.5, "labelColor": "black"}},
            "strokeDash": {"field": "g", "type": "nominal", "scale": {"domain": ["EOF1", "EOF2", "EOF3"], "range": [[1, 0], [9, 4], [9, 3, 2, 3]]}}
          }
        },
        {
          "data": {"values": [{"v": 0.482, "d": 86.7, "t": "(b)"}]},
          "mark": {"type": "text", "align": "right", "baseline": "middle", "font": "Liberation Sans", "fontSize": 19, "color": "black"},
          "encoding": {
            "x": {"field": "v", "type": "quantitative"},
            "y": {"field": "d", "type": "quantitative"},
            "text": {"field": "t"}
          }
        }
      ]
    }
  ]
}
